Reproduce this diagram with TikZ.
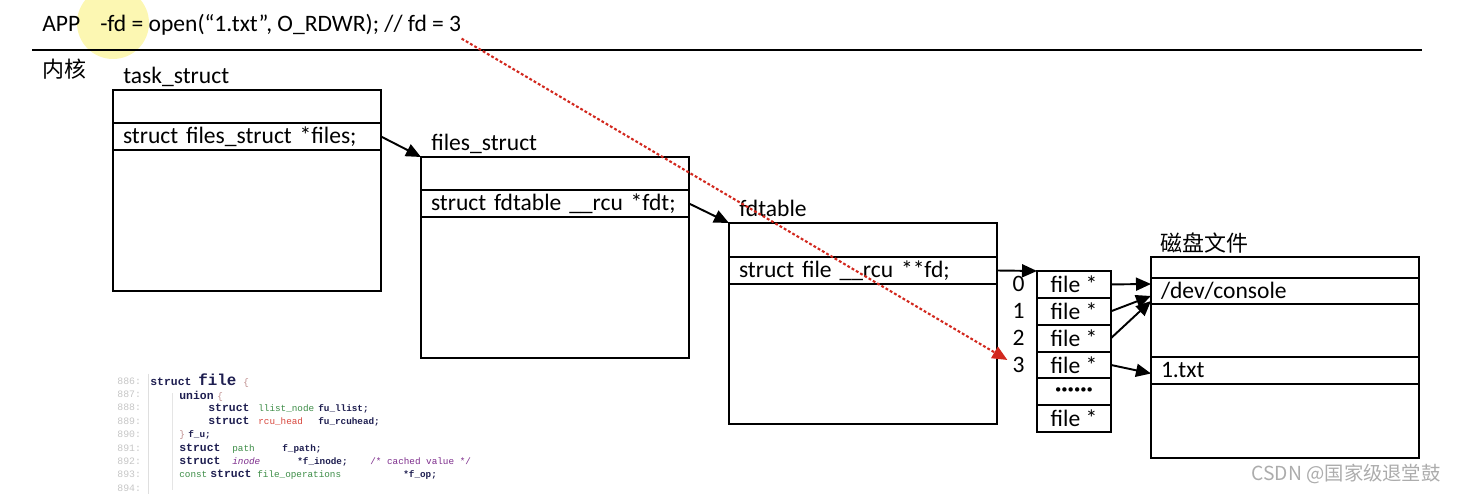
\documentclass[tikz,border=0pt]{standalone}
\usepackage{fontspec}
\setmainfont{Carlito}
\setmonofont{Liberation Mono}
\newfontfamily\cjk{Noto Sans CJK SC}
\usetikzlibrary{arrows.meta,positioning}

\definecolor{kwnavy}{RGB}{30,30,80}
\definecolor{codegreen}{RGB}{60,140,70}
\definecolor{codered}{RGB}{215,70,60}
\definecolor{codepurple}{RGB}{125,45,140}
\definecolor{codebrace}{RGB}{190,140,140}
\definecolor{hilite}{RGB}{252,247,178}
\definecolor{ptrred}{RGB}{210,40,30}

% code tokens
\newcommand{\kw}[1]{{\fontsize{6.5}{7}\selectfont\bfseries\color{kwnavy}#1}}
\newcommand{\fl}[1]{{\bfseries\color{kwnavy}#1}}
\newcommand{\ty}[2]{{\color{#1}#2}}
\newcommand{\cbox}[2]{\makebox[#1][l]{#2}}
\newcommand{\sixdots}{\textbf{······}}

\begin{document}
\begin{tikzpicture}[
  every node/.style={font=\fontsize{13.4}{16}\selectfont},
  structbox/.style={draw, line width=1.1pt, minimum width=5.36cm,
              minimum height=4.02cm, inner sep=0pt, outer sep=0pt, anchor=north west},
  fieldrow/.style={draw, line width=1.1pt, minimum height=0.54cm, text width=4.96cm,
              inner xsep=0.2cm, inner ysep=0pt, outer sep=0pt, align=left},
  slot/.style={draw, line width=1.1pt, minimum width=1.48cm, minimum height=0.537cm,
              inner sep=0pt, outer sep=0pt, anchor=north west},
  lbl/.style={anchor=base west, inner sep=0pt},
  idx/.style={inner sep=0pt},
  ar/.style={-{Triangle[length=3mm,width=2.6mm]}, line width=1.1pt},
  redar/.style={-{Triangle[length=3mm,width=2.6mm]}, draw=ptrred, line width=1.2pt,
              dash pattern=on 1.6pt off 1.2pt},
  codeline/.style={anchor=west, inner sep=0pt, font=\fontsize{5.3}{6}\selectfont\ttfamily},
  lineno/.style={anchor=west, inner sep=0pt, text=gray!45,
              font=\fontsize{5.6}{6}\selectfont\ttfamily}
]
\useasboundingbox (0,0) rectangle (29.14,-9.88);

% cursor highlight
\fill[hilite] (2.26,-0.46) circle (0.72cm);

% user space
\node[lbl] (app) at (0.84,-0.63) {APP};
\node[lbl] (call) at (2.0,-0.63) {-fd = open(“1.txt”, O\_RDWR); // fd = 3};
\draw[line width=1.2pt] (0.64,-1.0) -- (28.44,-1.0);
\node[lbl, font=\cjk\fontsize{12.5}{14}\selectfont] (kernel) at (0.84,-1.56) {内核};

% task_struct -> files_struct -> fdtable
\node[structbox] (task) at (2.26,-1.80) {};
\node[fieldrow, below=0.66cm of task.north west, anchor=north west] (taskf)
  {struct files\_struct *files;};
\node[lbl] at ([xshift=0.2cm, yshift=0.13cm]task.north west) (tasklbl) {task\_struct};

\node[structbox, below right=1.34cm and 0.8cm of task.north east] (files) {};
\node[fieldrow, below=0.66cm of files.north west, anchor=north west] (filesf)
  {struct fdtable \_\_rcu *fdt;};
\node[lbl] at ([xshift=0.2cm, yshift=0.13cm]files.north west) (fileslbl) {files\_struct};

\node[structbox, below right=1.32cm and 0.8cm of files.north east] (fdt) {};
\node[fieldrow, below=0.68cm of fdt.north west, anchor=north west] (fdtf)
  {struct file \_\_rcu **fd;};
\node[lbl] at ([xshift=0.2cm, yshift=0.13cm]fdt.north west) (fdtlbl) {fdtable};

% fd array
\foreach \t [count=\i from 0] in {file *, file *, file *, file *, \sixdots, file *}
  \node[slot] (f\i) at (20.74,{-5.42-0.537*\i}) {\t};
\foreach \i in {0,1,2,3}
  \node[idx, left=0.24cm of f\i] (i\i) {\i};

% disk files
\node[structbox] (disk) at (23.02,-5.14) {};
\node[lbl, font=\cjk\fontsize{12.5}{14}\selectfont] at ([xshift=0.18cm, yshift=0.1cm]disk.north west)
  (disklbl) {磁盘文件};
\node[fieldrow, minimum height=0.52cm, below=0.42cm of disk.north west, anchor=north west]
  (dev) {/dev/console};
\node[fieldrow, below=2.0cm of disk.north west, anchor=north west] (txt) {1.txt};

\draw[ar] (taskf.east) -- (files.north west);
\draw[ar] (filesf.east) -- (fdt.north west);
\draw[ar] (fdtf.east) -- (f0.north west);
\draw[ar] (f0.east) -- ([yshift=0.14cm]dev.west);
\draw[ar] (f1.east) -- ([yshift=-0.1cm]dev.west);
\draw[ar] (f2.east) -- ([yshift=-0.2cm]dev.west);
\draw[ar] (f3.east) -- ([yshift=-0.06cm]txt.west);

\draw[redar] ([yshift=-0.06cm]call.south east) -- ([xshift=-0.1cm, yshift=0.1cm]i3.west);

% struct file snippet
\draw[gray!25] (2.96,-7.48) -- (2.96,-9.88);
\draw[gray!20] (3.44,-7.86) -- (3.44,-9.80);
\foreach \n [count=\k from 0] in {886,887,888,889,890,891,892,893,894}
  \node[lineno] (n\n) at (2.34,{-7.62-0.2675*\k}) {\n:};
\node[codeline] (c886) at (3.0,-7.62)
  {\cbox{0.96cm}{\kw{struct}}\cbox{0.9cm}{{\fontsize{9}{10}\selectfont\fl{file}}}\ty{codebrace}{\{}};
\node[codeline] (c887) at (3.58,-7.92) {\cbox{0.76cm}{\kw{union}}\ty{codebrace}{\{}};
\node[codeline] (c888) at (4.16,-8.18)
  {\cbox{1.0cm}{\kw{struct}}\cbox{1.2cm}{\ty{codegreen}{llist\_node}}\fl{fu\_llist;}};
\node[codeline] (c889) at (4.16,-8.44)
  {\cbox{1.0cm}{\kw{struct}}\cbox{1.2cm}{\ty{codered}{rcu\_head}}\fl{fu\_rcuhead;}};
\node[codeline] (c890) at (3.58,-8.70) {\cbox{0.18cm}{\ty{codebrace}{\}}}\fl{f\_u;}};
\node[codeline] (c891) at (3.58,-8.98)
  {\cbox{1.06cm}{\kw{struct}}\cbox{1.0cm}{\ty{codegreen}{path}}\fl{f\_path;}};
\node[codeline] (c892) at (3.58,-9.24)
  {\cbox{1.06cm}{\kw{struct}}\cbox{1.3cm}{\ty{codepurple}{\itshape inode}}\cbox{1.46cm}{\fl{*f\_inode;}}\ty{codepurple}{/* cached value */}};
\node[codeline] (c893) at (3.58,-9.50)
  {\cbox{0.62cm}{\ty{codegreen}{const}}\cbox{0.94cm}{\kw{struct}}\cbox{2.92cm}{\ty{codegreen}{file\_operations}}\fl{*f\_op;}};

% watermark
\node[anchor=base east, inner sep=0pt, text=gray!65, font=\cjk\fontsize{11}{13}\selectfont]
  (mark) at (28.82,-9.62) {CSDN @国家级退堂鼓};
\end{tikzpicture}
\end{document}
